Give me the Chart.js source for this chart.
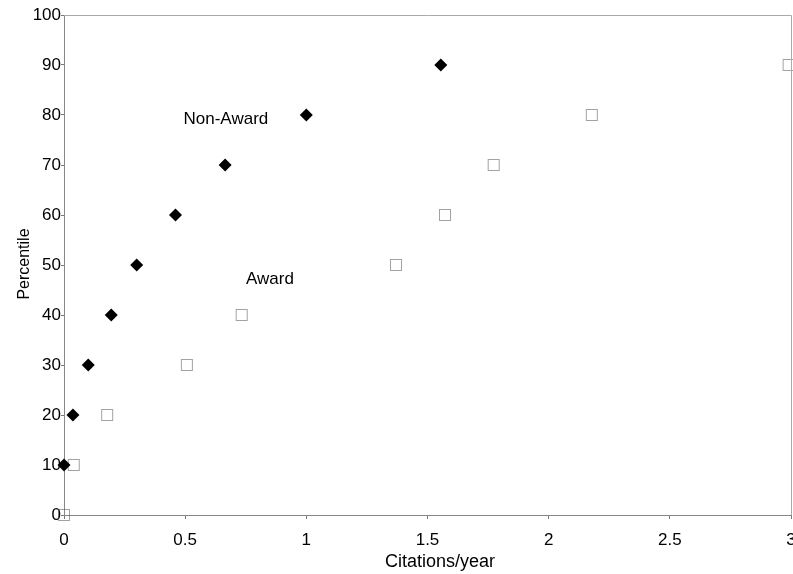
<!DOCTYPE html>
<html>
<head>
<meta charset="utf-8">
<script src="https://cdn.jsdelivr.net/npm/chart.js@4"></script>
<style>
  body { margin: 0; background: #fff; overflow: hidden; }
  #wrap { width: 793px; height: 574px; }
</style>
</head>
<body>
<div id="wrap"><canvas id="chart" width="793" height="574"></canvas></div>
<script>
const percentiles = [0, 10, 20, 30, 40, 50, 60, 70, 80, 90];
const nonAwardX = [null, 0, 0.037, 0.10, 0.195, 0.30, 0.46, 0.665, 1.0, 1.555];
const awardX = [0, 0.04, 0.178, 0.507, 0.733, 1.37, 1.572, 1.773, 2.178, 2.99];
const xTicks = [0, 0.5, 1, 1.5, 2, 2.5, 3];
const yTicks = [0, 10, 20, 30, 40, 50, 60, 70, 80, 90, 100];

const FONT = "'Liberation Sans', Arial, sans-serif";
const PLOT_RIGHT = 791;

function toPoints(xs) {
  const pts = [];
  xs.forEach((x, i) => { if (x !== null) pts.push({ x: x, y: percentiles[i] }); });
  return pts;
}

// open square with dotted edge
const sq = document.createElement("canvas");
sq.width = 14; sq.height = 14;
const sctx = sq.getContext("2d");
sctx.strokeStyle = "#444";
sctx.lineWidth = 1;
sctx.setLineDash([1, 1]);
sctx.strokeRect(1.5, 1.5, 11, 11);

// stretch the plot to the right edge like the original (the "3" gets cut off)
const stretch = {
  id: "stretch",
  afterLayout(chart) {
    const x = chart.scales.x;
    x.right = PLOT_RIGHT;
    x.width = x.right - x.left;
    x.configure();
    chart.chartArea.right = PLOT_RIGHT;
    chart.chartArea.width = PLOT_RIGHT - chart.chartArea.left;
  }
};

// frame, axis titles and series labels
const extras = {
  id: "extras",
  afterDraw(chart) {
    const c = chart.ctx, a = chart.chartArea;
    const xs = chart.scales.x, ys = chart.scales.y;
    c.save();
    c.strokeStyle = "#aaa";
    c.lineWidth = 1;
    c.beginPath();
    c.moveTo(a.left, a.top + 0.5);
    c.lineTo(a.right + 0.5, a.top + 0.5);
    c.lineTo(a.right + 0.5, a.bottom);
    c.stroke();

    c.fillStyle = "#000";
    c.textAlign = "center";
    c.textBaseline = "middle";
    c.font = "18px " + FONT;
    c.fillText("Citations/year", 440, 562);
    c.save();
    c.translate(25, 264);
    c.rotate(-Math.PI / 2);
    c.font = "16px " + FONT;
    c.fillText("Percentile", 0, 0);
    c.restore();

    c.font = "17px " + FONT;
    c.fillText("Non-Award", xs.getPixelForValue(0.668), ys.getPixelForValue(79.2));
    c.fillText("Award", xs.getPixelForValue(0.85), ys.getPixelForValue(47.2));
    c.restore();
  }
};

new Chart(document.getElementById("chart").getContext("2d"), {
  type: "scatter",
  data: {
    datasets: [
      {
        label: "Non-Award",
        data: toPoints(nonAwardX),
        pointStyle: "rectRot",
        radius: 6.5,
        backgroundColor: "#000",
        borderColor: "#000",
        borderWidth: 0,
        clip: false
      },
      {
        label: "Award",
        data: toPoints(awardX),
        pointStyle: sq,
        radius: 7,
        clip: false
      }
    ]
  },
  options: {
    responsive: false,
    animation: false,
    layout: { padding: { top: 15, right: 0, left: 0, bottom: 0 } },
    plugins: { legend: { display: false }, tooltip: { enabled: false } },
    scales: {
      x: {
        type: "linear",
        min: 0, max: 3,
        afterBuildTicks: s => { s.ticks = xTicks.map(v => ({ value: v })); },
        afterFit: s => { s.height = 59; },
        ticks: { color: "#000", font: { family: FONT, size: 17 }, padding: 11, maxRotation: 0,
                 callback: v => String(v) },
        grid: { drawOnChartArea: false, tickLength: 4, tickColor: "#777" },
        border: { color: "#888" }
      },
      y: {
        type: "linear",
        min: 0, max: 100,
        afterBuildTicks: s => { s.ticks = yTicks.map(v => ({ value: v })); },
        afterFit: s => { s.width = 64; },
        ticks: { color: "#000", font: { family: FONT, size: 17 }, padding: 0 },
        grid: { drawOnChartArea: false, tickLength: 3, tickColor: "#777" },
        border: { color: "#888" }
      }
    }
  },
  plugins: [stretch, extras]
});
</script>
</body>
</html>
